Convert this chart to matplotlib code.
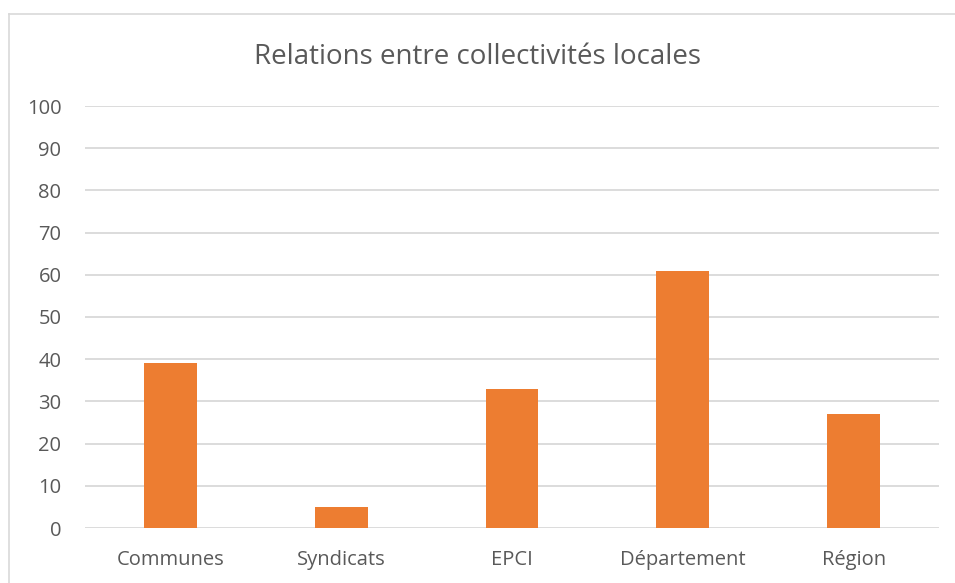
import matplotlib
matplotlib.use("Agg")
import matplotlib.pyplot as plt
from matplotlib.lines import Line2D

# --- Daten ---
categories = ["Communes", "Syndicats", "EPCI", "Département", "Région"]
values = [39, 5, 33, 61, 27]
yticks = [0, 10, 20, 30, 40, 50, 60, 70, 80, 90, 100]

plt.rcParams["font.family"] = ["Open Sans", "DejaVu Sans"]
text_col = "#595959"

fig = plt.figure(figsize=(9.55, 5.83), dpi=100)
ax = fig.add_axes([85 / 955, 55 / 583, (939 - 85) / 955, (528 - 106) / 583])

x = list(range(len(categories)))
ax.bar(x, values, width=0.31, color="#ED7D31", zorder=3)

ax.set_xlim(-0.5, len(categories) - 0.5)
ax.set_ylim(0, 100)
ax.set_yticks(yticks)
ax.set_xticks(x)
ax.set_xticklabels(categories)
ax.tick_params(axis="both", length=0, labelsize=14.5, colors=text_col)
ax.tick_params(axis="x", pad=16)
ax.tick_params(axis="y", pad=17)
ax.grid(axis="y", color="#D9D9D9", linewidth=1.3, zorder=0)
for s in ax.spines.values():
    s.set_visible(False)

fig.text(0.5, 1 - 57 / 583, "Relations entre collectivités locales",
         ha="center", va="center", fontsize=20, color=text_col)

# Rahmen des Diagramms (links und oben)
fig.add_artist(Line2D([8.5 / 955, 8.5 / 955], [0, 1 - 13.5 / 583],
                      transform=fig.transFigure, color="#D9D9D9", lw=1.2))
fig.add_artist(Line2D([8.5 / 955, 1], [1 - 13.5 / 583, 1 - 13.5 / 583],
                      transform=fig.transFigure, color="#D9D9D9", lw=1.2))

fig.savefig("out.png", dpi=100)
